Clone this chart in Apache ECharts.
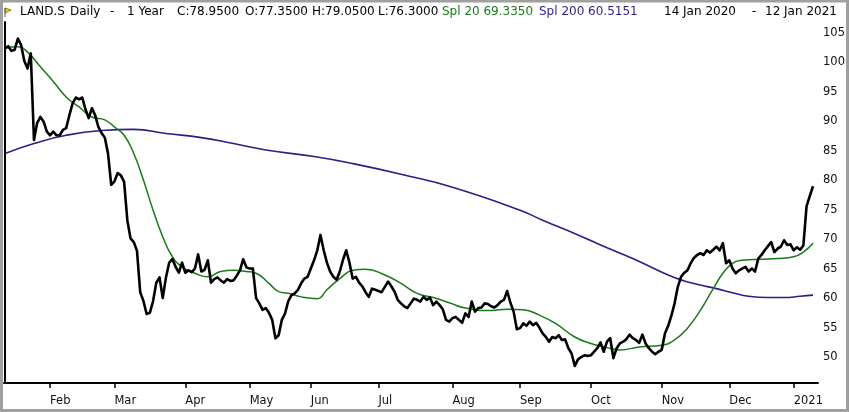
<!DOCTYPE html>
<html>
<head>
<meta charset="utf-8">
<script src="https://cdn.jsdelivr.net/npm/echarts@6/dist/echarts.min.js"></script>
<style>
  html, body { margin: 0; padding: 0; background: #fff; }
  #chart { width: 850px; height: 412px; }
</style>
</head>
<body>
<div id="chart"></div>
<script>
// trading calendar (SIX), 14 Jan 2020 - 12 Jan 2021
var startDay = '2020-01-14';
var endDay = '2021-01-12';
var holidays = ['2020-04-10', '2020-04-13', '2020-05-01', '2020-05-21', '2020-06-01',
  '2020-12-24', '2020-12-25', '2020-12-31', '2021-01-01'];
var monthNames = ['Jan', 'Feb', 'Mar', 'Apr', 'May', 'Jun', 'Jul', 'Aug', 'Sep', 'Oct', 'Nov', 'Dec'];

// daily close
var closes = [
  102.3, 102.7, 101.9, 102.1, 104.0, 102.9, 100.2, 98.9, 101.5, 86.8,
  89.7, 90.7, 89.9, 88.2, 87.6, 88.2, 87.6, 87.6, 88.5, 88.8,
  91.0, 93.0, 94.0, 93.7, 94.0, 92.0, 90.5, 92.2, 91.0, 89.0,
  88.0, 87.2, 84.5, 79.2, 79.8, 81.2, 80.8, 79.7, 73.2, 70.1,
  69.5, 68.0, 61.0, 59.5, 57.3, 57.5, 59.5, 62.6, 63.5, 60.0,
  63.5, 66.0, 66.6, 65.3, 64.3, 66.0, 64.3, 64.7, 64.4, 65.0,
  67.4, 64.5, 64.8, 66.4, 62.6, 63.2, 63.5, 63.0, 62.6, 63.2,
  62.9, 63.0, 63.8, 64.7, 66.6, 65.2, 65.0, 65.0, 60.0, 59.1,
  58.0, 58.3, 57.5, 56.3, 53.2, 53.7, 56.3, 57.4, 59.5, 60.5,
  60.8, 61.4, 62.5, 63.3, 63.6, 65.0, 66.4, 68.1, 70.7, 68.1,
  66.0, 64.5, 63.6, 63.1, 64.5, 66.5, 68.1, 66.0, 63.3, 63.6,
  62.6, 62.0, 61.0, 60.2, 61.6, 61.4, 61.2, 61.0, 61.9, 62.8,
  62.0, 61.1, 59.7, 59.1, 58.6, 58.3, 59.1, 59.9, 59.7, 59.4,
  60.2, 59.7, 60.1, 58.8, 59.4, 58.8, 58.1, 56.3, 56.0, 56.6,
  56.8, 56.3, 55.8, 57.4, 56.8, 59.4, 57.7, 58.3, 58.4, 59.1,
  59.0, 58.6, 58.4, 58.8, 59.4, 59.7, 61.2, 59.2, 57.7, 54.7,
  54.9, 55.7, 55.3, 56.0, 55.4, 55.8, 55.0, 54.0, 53.4, 52.6,
  53.4, 53.2, 53.7, 52.9, 53.0, 51.5, 50.6, 48.5, 49.6, 50.0,
  50.3, 50.2, 50.3, 50.9, 51.5, 52.5, 50.9, 52.6, 53.2, 49.8,
  51.5, 52.3, 52.6, 53.0, 53.8, 53.2, 52.9, 52.4, 53.8, 52.3,
  51.5, 50.9, 50.5, 50.9, 51.2, 54.0, 55.3, 57.0, 59.1, 61.9,
  63.6, 64.3, 64.7, 65.9, 66.8, 67.3, 67.6, 67.3, 68.1, 67.7,
  68.2, 68.7, 68.1, 69.3, 65.9, 66.4, 65.0, 64.2, 64.7, 65.0,
  65.3, 64.5, 65.0, 64.5, 66.7, 67.3, 68.1, 68.8, 69.5, 67.8,
  68.4, 68.7, 69.8, 69.0, 69.1, 68.1, 68.6, 68.2, 68.9, 75.6,
  77.3, 78.95
];

// Spl 20: trading-day index, value
var spl20Idx = [0, 4, 7, 11, 15, 19, 23, 27, 31, 34, 37, 40, 43, 46, 49, 52, 55, 59, 63, 67,
  71, 75, 78, 82, 85, 88, 92, 97, 100, 104, 108, 112, 118, 123, 128, 133, 138, 143, 151, 156,
  161, 166, 171, 177, 182, 187, 191, 197, 204, 208, 212, 216, 220, 223, 226, 229, 235, 240, 245, 248, 251];
var spl20Val = [102.5, 102.6, 101.7, 99.2, 96.7, 94.1, 92.4, 90.7, 90.2, 89.0, 87.6, 84.5, 80.0, 74.9, 70.4, 67.0, 65.3, 64.2, 63.6, 64.5,
  64.7, 64.5, 64.2, 62.5, 61.1, 60.8, 60.2, 59.9, 61.4, 63.3, 64.7, 64.9, 63.9, 62.5, 60.8, 60.1, 59.2, 58.3, 57.9, 58.1,
  58.0, 57.1, 55.7, 53.4, 52.3, 51.6, 51.2, 51.7, 52.0, 52.9, 54.9, 57.9, 61.6, 64.2, 65.9, 66.4, 66.6, 66.7, 67.0, 67.8, 69.3];

// Spl 200
var spl200Idx = [0, 9, 19, 30, 40, 50, 61, 71, 81, 96, 108, 123, 139, 160, 167, 178, 185, 195, 206, 211,
  216, 221, 226, 231, 237, 242, 247, 251];
var spl200Val = [84.5, 86.2, 87.6, 88.4, 88.6, 87.9, 87.2, 86.2, 85.1, 84.0, 82.8, 81.0, 78.8, 74.9, 73.2, 70.7, 69.0, 66.7, 63.9, 62.9,
  62.2, 61.6, 60.9, 60.3, 60.1, 60.1, 60.3, 60.5];

var yTicks = [50, 55, 60, 65, 70, 75, 80, 85, 90, 95, 100, 105];

// build trading days
var days = [];
var d = new Date(startDay + 'T00:00:00Z');
var last = new Date(endDay + 'T00:00:00Z');
while (d <= last) {
  var iso = d.toISOString().slice(0, 10);
  var wd = d.getUTCDay();
  if (wd !== 0 && wd !== 6 && holidays.indexOf(iso) < 0) days.push(iso);
  d.setUTCDate(d.getUTCDate() + 1);
}

// first trading day of each month -> tick
var monthTicks = [];
var monthLabel = {};
for (var i = 1; i < days.length; i++) {
  if (days[i].slice(5, 7) !== days[i - 1].slice(5, 7)) {
    monthTicks.push(i);
    var m = parseInt(days[i].slice(5, 7), 10) - 1;
    monthLabel[i] = m === 0 ? days[i].slice(0, 4) : monthNames[m];
  }
}

function pairs(idx, vals) {
  return idx.map(function (x, k) { return [x, vals[k]]; });
}

var font = 'DejaVu Sans';
var green = '#1a7a1a';
var purple = '#2f1d86';

function headText(x, str, color) {
  return {
    type: 'text', left: x, top: 6,
    style: { text: str, fill: color || '#000', font: '12px "' + font + '"' }
  };
}

var chart = echarts.init(document.getElementById('chart'));
var option = {
  animation: false,
  backgroundColor: '#fff',
  grid: { left: 4, right: 32, top: 22, bottom: 29 },
  xAxis: {
    type: 'value',
    min: -0.31,
    max: 252.55,
    axisLine: { show: true, lineStyle: { color: '#000', width: 2 } },
    axisTick: { show: true, customValues: monthTicks, length: 5, lineStyle: { color: '#000', width: 1.5 } },
    axisLabel: {
      customValues: monthTicks,
      formatter: function (v) { return monthLabel[v] || ''; },
      align: 'left', margin: 12,
      color: '#111', fontFamily: font, fontSize: 11.5
    },
    splitLine: { show: false }
  },
  yAxis: {
    type: 'value',
    position: 'right',
    min: 45.6,
    max: 106.8,
    axisLine: { show: true, lineStyle: { color: '#000', width: 2 } },
    axisTick: { show: false },
    axisLabel: {
      customValues: yTicks,
      margin: 5,
      color: '#111', fontFamily: font, fontSize: 11.5
    },
    splitLine: { show: false }
  },
  series: [
    {
      name: 'Spl 200', type: 'line', data: pairs(spl200Idx, spl200Val),
      smooth: 0.5, showSymbol: false, z: 2,
      lineStyle: { color: purple, width: 1.6 }
    },
    {
      name: 'Spl 20', type: 'line', data: pairs(spl20Idx, spl20Val),
      smooth: 0.5, showSymbol: false, z: 2,
      lineStyle: { color: green, width: 1.5 }
    },
    {
      name: 'LAND.S', type: 'line', data: closes.map(function (v, k) { return [k, v]; }),
      showSymbol: false, z: 3,
      lineStyle: { color: '#000', width: 2.6, join: 'round' }
    }
  ],
  graphic: [
    {
      type: 'rect', shape: { x: 1.5, y: 1, width: 846, height: 409.5 },
      style: { fill: 'none', stroke: '#a0a0a0', lineWidth: 3 }, silent: true
    },
    {
      type: 'polygon', shape: { points: [[5, 8], [11, 10], [5, 13]] },
      style: { fill: '#e8d020', stroke: '#7a6a00', lineWidth: 0.8 }
    },
    {
      type: 'line', shape: { x1: 5, y1: 8, x2: 5, y2: 17 },
      style: { stroke: '#555', lineWidth: 1 }
    },
    headText(20, 'LAND.S'),
    headText(70, 'Daily'),
    headText(110, '-'),
    headText(127, '1 Year'),
    headText(177, 'C:78.9500'),
    headText(245, 'O:77.3500'),
    headText(312, 'H:79.0500'),
    headText(378, 'L:76.3000'),
    headText(442, 'Spl 20 69.3350', green),
    headText(539, 'Spl 200 60.5151', purple),
    headText(664, '14 Jan 2020'),
    headText(752, '-'),
    headText(765, '12 Jan 2021')
  ]
};
chart.setOption(option);
</script>
</body>
</html>
